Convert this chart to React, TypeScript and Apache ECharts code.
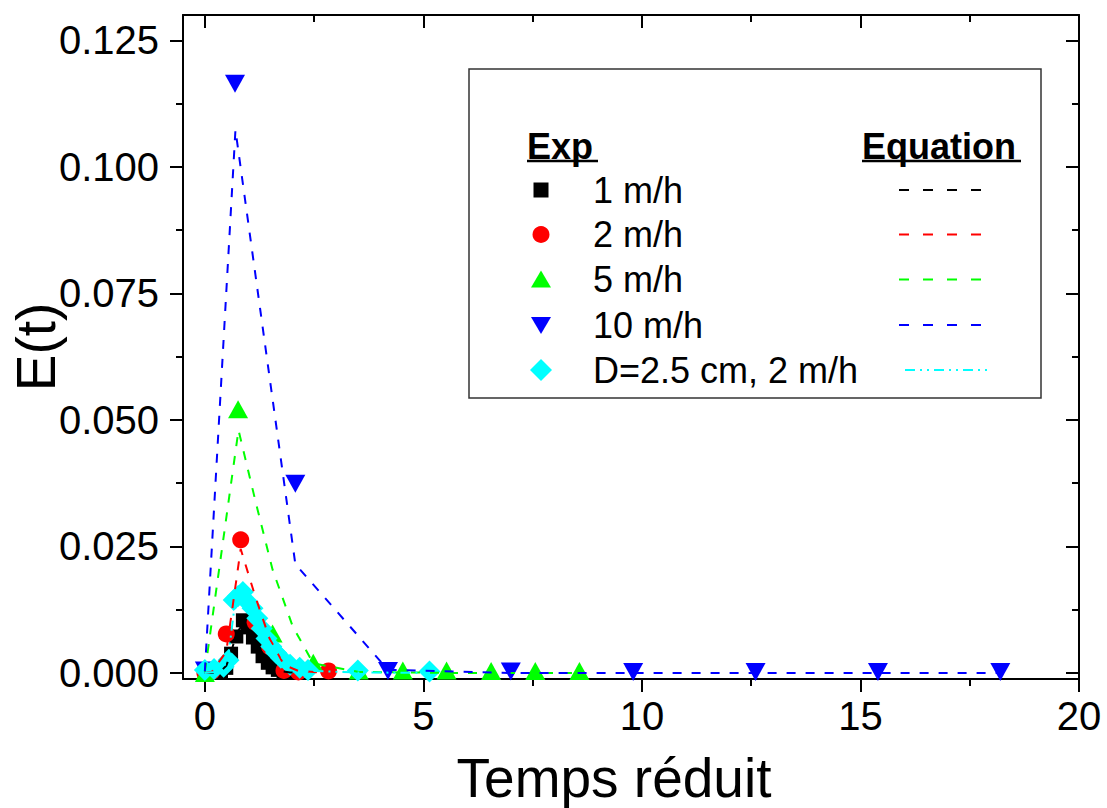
import React, { useEffect, useRef } from "react";
import * as echarts from "echarts";

const FONT = "'Liberation Sans', Arial, sans-serif";

const xTicks = [0, 5, 10, 15, 20];
const xMinor = [2.5, 7.5, 12.5, 17.5];
const yTicks = [0, 0.025, 0.05, 0.075, 0.1, 0.125];
const yMinor = [0.0125, 0.0375, 0.0625, 0.0875, 0.1125];

// 1 m/h
const exp1X = [0, 0.12, 0.25, 0.37, 0.49, 0.6, 0.72, 0.87, 0.98, 1.1, 1.21, 1.32, 1.44, 1.55, 1.67, 1.8, 1.95, 2.1];
const exp1Y = [0, 0, 0.0001, 0.0003, 0.001, 0.0038, 0.0072, 0.0104, 0.009, 0.007, 0.0052, 0.0033, 0.002, 0.0011, 0.0006, 0.0003, 0.0002, 0.0001];
const eq1Y = [0, 0, 0.0001, 0.0004, 0.0014, 0.004, 0.0078, 0.0096, 0.0088, 0.0072, 0.0054, 0.0037, 0.0023, 0.0013, 0.0007, 0.0003, 0.0001, 0];

// 2 m/h
const exp2X = [0, 0.16, 0.49, 0.82, 1.15, 1.48, 1.81, 2.14, 2.83];
const exp2Y = [0, 0.0003, 0.0077, 0.0263, 0.01, 0.0052, 0.0005, 0.0002, 0.0004];
const eq2Y = [0, 0.0002, 0.0042, 0.0245, 0.0152, 0.0068, 0.0016, 0.0004, 0];

// 5 m/h
const exp5X = [0, 0.76, 1.55, 2.48, 3.52, 4.53, 5.53, 6.55, 7.56, 8.57];
const exp5Y = [0, 0.0521, 0.0078, 0.002, 0.0005, 0.0005, 0.0005, 0.0004, 0.0004, 0.0004];
const eq5X = [0, 0.77, 1.17, 1.55, 2.01, 2.48, 3.52, 4.53, 5.53, 6.55, 7.56, 8.57];
const eq5Y = [0.0002, 0.048, 0.0335, 0.0204, 0.0092, 0.0019, 0.0002, 0.0001, 0, 0, 0, 0];

// 10 m/h
const exp10X = [0, 0.69, 2.07, 4.19, 7.0, 9.8, 12.6, 15.4, 18.2];
const exp10Y = [0.0005, 0.1164, 0.0374, 0.0004, 0.0003, 0.0002, 0.0002, 0.0002, 0.0002];
const eq10X = [0, 0.7, 2.07, 4.19, 7.0, 9.8, 12.6, 15.4, 18.2];
const eq10Y = [0.0003, 0.1073, 0.0215, 0.0006, 0, 0, 0, 0, 0];

// D=2.5 cm, 2 m/h
const expDX = [0, 0.21, 0.43, 0.54, 0.66, 0.76, 0.87, 0.98, 1.09, 1.2, 1.3, 1.41, 1.52, 1.63, 1.74, 1.95, 2.17, 2.36, 3.5, 5.14];
const expDY = [0.0006, 0.0008, 0.0012, 0.0025, 0.0144, 0.0152, 0.016, 0.014, 0.0128, 0.0108, 0.0088, 0.0068, 0.0052, 0.004, 0.003, 0.0016, 0.001, 0.0006, 0.0005, 0.0003];
const eqDY = [0, 0.0002, 0.001, 0.0035, 0.0118, 0.0145, 0.015, 0.0138, 0.0122, 0.0104, 0.0086, 0.0069, 0.0054, 0.0042, 0.0032, 0.0017, 0.0008, 0.0004, 0.0001, 0];

const legendNames = ["1 m/h", "2 m/h", "5 m/h", "10 m/h", "D=2.5 cm, 2 m/h"];
const colors = ["#000000", "#ff0000", "#00ff00", "#0000ff", "#00ffff"];

const zip = (xs: number[], ys: number[]) => xs.map((x, i) => [x, ys[i]]);

export default function App() {
  const ref = useRef<HTMLDivElement>(null);
  useEffect(() => {
    if (!ref.current) return;
    const chart = echarts.init(ref.current, null, { renderer: "svg" });
    const XMIN = -0.5, XMAX = 20, YMIN = -0.0012, YMAX = 0.13;
    const axLine = { show: true, onZero: false, lineStyle: { color: "#000", width: 2 } };
    const noLine = { show: false, onZero: false };
    const tickStyle = { color: "#000", width: 2 };
    const common = { type: "value", splitLine: { show: false } };

    const xAxis = [
      {
        ...common, position: "bottom", min: XMIN, max: XMAX, axisLine: axLine,
        axisTick: { show: true, customValues: xTicks, length: 13, lineStyle: tickStyle },
        axisLabel: { show: true, customValues: xTicks, fontSize: 40, fontFamily: FONT, color: "#000", margin: 17 },
        name: "Temps réduit", nameLocation: "middle", nameGap: 71, nameMoveOverlap: false,
        nameTextStyle: { fontSize: 55, fontFamily: FONT, color: "#000", padding: [0, 34, 0, 0] },
      },
      {
        ...common, position: "bottom", min: XMIN, max: XMAX, axisLine: noLine,
        axisTick: { show: true, customValues: xMinor, length: 7, lineStyle: tickStyle },
        axisLabel: { show: false },
      },
      {
        ...common, position: "top", min: XMIN, max: XMAX, axisLine: axLine,
        axisTick: { show: true, inside: true, customValues: xTicks, length: 13, lineStyle: tickStyle },
        axisLabel: { show: false },
      },
      {
        ...common, position: "top", min: XMIN, max: XMAX, axisLine: noLine,
        axisTick: { show: true, inside: true, customValues: xMinor, length: 7, lineStyle: tickStyle },
        axisLabel: { show: false },
      },
    ];
    const yAxis = [
      {
        ...common, position: "left", min: YMIN, max: YMAX, axisLine: axLine,
        axisTick: { show: true, customValues: yTicks, length: 13, lineStyle: tickStyle },
        axisLabel: {
          show: true, customValues: yTicks, fontSize: 40, fontFamily: FONT, color: "#000", margin: 24,
          formatter: (v: number) => v.toFixed(3),
        },
        name: "E(t)", nameLocation: "middle", nameGap: 120, nameRotate: 90, nameMoveOverlap: false,
        nameTextStyle: { fontSize: 55, fontFamily: FONT, color: "#000" },
      },
      {
        ...common, position: "left", min: YMIN, max: YMAX, axisLine: noLine,
        axisTick: { show: true, customValues: yMinor, length: 7, lineStyle: tickStyle },
        axisLabel: { show: false },
      },
      {
        ...common, position: "right", min: YMIN, max: YMAX, axisLine: axLine,
        axisTick: { show: true, inside: true, customValues: yTicks, length: 13, lineStyle: tickStyle },
        axisLabel: { show: false },
      },
      {
        ...common, position: "right", min: YMIN, max: YMAX, axisLine: noLine,
        axisTick: { show: true, inside: true, customValues: yMinor, length: 7, lineStyle: tickStyle },
        axisLabel: { show: false },
      },
    ];

    const scatter = (name: string, xs: number[], ys: number[], color: string, symbol: string, size: any, rotate = 0) => ({
      name, type: "scatter", data: zip(xs, ys), symbol, symbolSize: size, symbolRotate: rotate,
      itemStyle: { color, opacity: 1 }, z: 2, xAxisIndex: 0, yAxisIndex: 0,
    });
    const line = (name: string, xs: number[], ys: number[], color: string, dash: number[]) => ({
      name, type: "line", data: zip(xs, ys), symbol: "none", showSymbol: false,
      lineStyle: { color, width: 2, type: dash }, z: 3, xAxisIndex: 0, yAxisIndex: 0,
    });
    const dash = [9, 10];
    const dashDot = [10, 5, 2, 5, 2, 5];

    const series = [
      scatter("exp 1 m/h", exp1X, exp1Y, colors[0], "rect", 14),
      scatter("exp 2 m/h", exp2X, exp2Y, colors[1], "circle", 17),
      scatter("exp 5 m/h", exp5X, exp5Y, colors[2], "triangle", [20, 18]),
      scatter("exp 10 m/h", exp10X, exp10Y, colors[3], "triangle", [20, 18], 180),
      scatter("exp D", expDX, expDY, colors[4], "diamond", [22, 22]),
      line("eq 1 m/h", exp1X, eq1Y, colors[0], dash),
      line("eq 2 m/h", exp2X, eq2Y, colors[1], dash),
      line("eq 5 m/h", eq5X, eq5Y, colors[2], dash),
      line("eq 10 m/h", eq10X, eq10Y, colors[3], dash),
      line("eq D", expDX, eqDY, colors[4], dashDot),
    ];

    // legend drawn as graphic
    const rows = [190, 234.5, 279.5, 325, 370];
    const mx = 541;
    const legendEls: any[] = [
      { type: "rect", shape: { x: 469, y: 69, width: 572, height: 329 }, style: { fill: "#fff", stroke: "#333", lineWidth: 1.5 }, z: 10 },
      { type: "text", x: 527, y: 146, style: { text: "Exp", font: `bold 36px ${FONT}`, fill: "#000", verticalAlign: "middle" }, z: 11 },
      { type: "line", shape: { x1: 527, y1: 161, x2: 598, y2: 161 }, style: { stroke: "#000", lineWidth: 2.5 }, z: 11 },
      { type: "text", x: 862, y: 146, style: { text: "Equation", font: `bold 36px ${FONT}`, fill: "#000", verticalAlign: "middle" }, z: 11 },
      { type: "line", shape: { x1: 862, y1: 161, x2: 1021, y2: 161 }, style: { stroke: "#000", lineWidth: 2.5 }, z: 11 },
    ];
    rows.forEach((y, i) => {
      legendEls.push({ type: "text", x: 593, y, style: { text: legendNames[i], font: `36px ${FONT}`, fill: "#000", verticalAlign: "middle" }, z: 11 });
      const c = colors[i];
      if (i === 0) legendEls.push({ type: "rect", shape: { x: mx - 7.5, y: y - 7.5, width: 15, height: 15 }, style: { fill: c }, z: 11 });
      if (i === 1) legendEls.push({ type: "circle", shape: { cx: mx, cy: y, r: 8.5 }, style: { fill: c }, z: 11 });
      if (i === 2) legendEls.push({ type: "polygon", shape: { points: [[mx - 10, y + 8], [mx + 10, y + 8], [mx, y - 9]] }, style: { fill: c }, z: 11 });
      if (i === 3) legendEls.push({ type: "polygon", shape: { points: [[mx - 10, y - 8], [mx + 10, y - 8], [mx, y + 9]] }, style: { fill: c }, z: 11 });
      if (i === 4) legendEls.push({ type: "polygon", shape: { points: [[mx - 11, y], [mx, y - 11], [mx + 11, y], [mx, y + 11]] }, style: { fill: c }, z: 11 });
      const x1 = i === 4 ? 905 : 899;
      const x2 = i === 4 ? 987 : 981;
      legendEls.push({
        type: "line", shape: { x1, y1: y, x2, y2: y },
        style: { stroke: c, lineWidth: 2, lineDash: i === 4 ? dashDot : [10, 14] }, z: 11,
      });
    });

    chart.setOption({
      animation: false,
      backgroundColor: "#fff",
      grid: { left: 183, right: 28, top: 15, bottom: 129, containLabel: false, outerBoundsMode: "none" },
      xAxis, yAxis, series,
      graphic: legendEls,
    } as any);
    return () => chart.dispose();
  }, []);
  return <div ref={ref} style={{ position: "absolute", left: 0, top: 0, width: 1107, height: 808 }} />;
}
